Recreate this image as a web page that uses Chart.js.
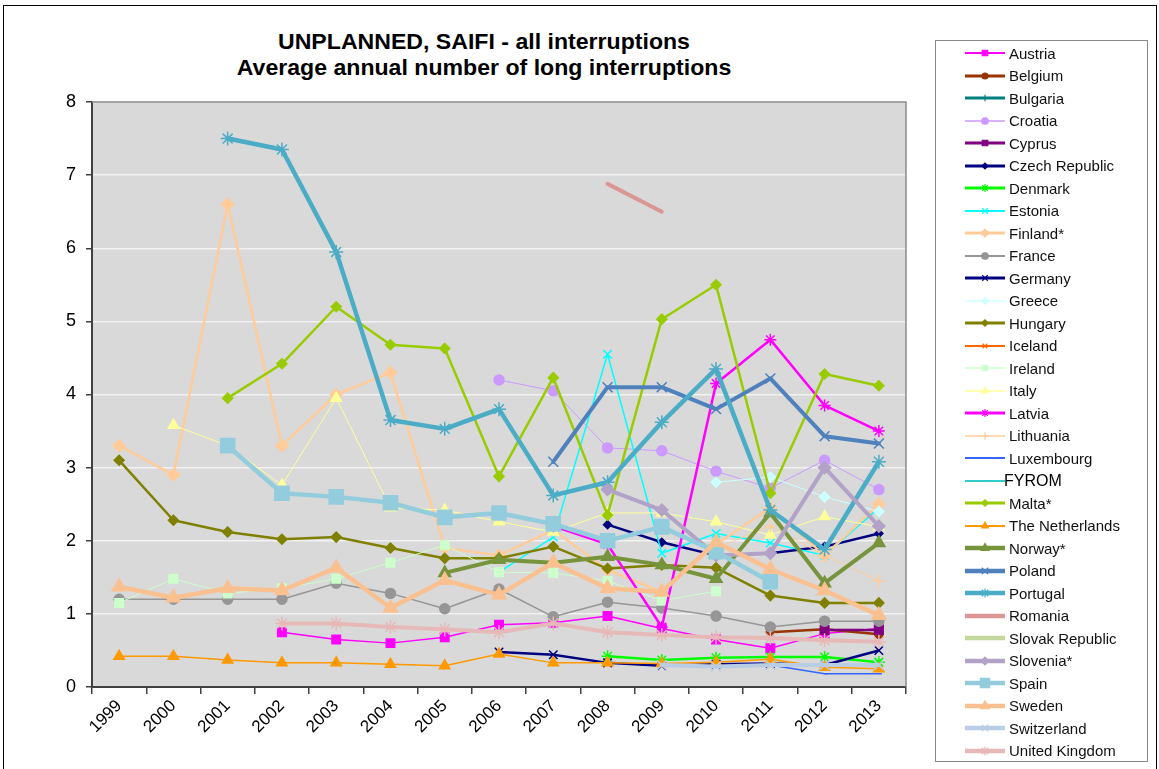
<!DOCTYPE html>
<html>
<head>
<meta charset="utf-8">
<script src="https://cdn.jsdelivr.net/npm/chart.js@4.4.1/dist/chart.umd.min.js"></script>
<style>
    body { margin: 0; background: #fff; font-family: "Liberation Sans", Arial, sans-serif; }
    #frame { position: absolute; left: 3px; top: 5px; width: 1154px; height: 770px; border: 1px solid #000; box-sizing: border-box; }
    #title { position: absolute; left: 0; top: 29px; width: 968px; text-align: center; font-weight: bold; font-size: 22px; line-height: 26px; color: #000; transform: scaleX(1.05); transform-origin: 484px 0; }
    #chart { position: absolute; left: 0; top: 0; }
    #legend { position: absolute; left: 935px; top: 40px; width: 213px; height: 722px; border: 1px solid #888; background: #fff; box-sizing: border-box; }
    .row { position: absolute; left: 0; height: 20px; display: flex; align-items: center; font-size: 15px; color: #111; white-space: nowrap; }
    .row canvas { margin-left: 29px; margin-right: 4px; }
</style>
</head>
<body>
<div id="frame"></div>
<div id="title">UNPLANNED, SAIFI - all interruptions<br>Average annual number of long interruptions</div>
<canvas id="chart" width="930" height="769"></canvas>
<div id="legend"></div>
<script>
const years = ['1999','2000','2001','2002','2003','2004','2005','2006','2007','2008','2009','2010','2011','2012','2013'];

const N = null;
const austria     = [N, N, N, 0.75, 0.65, 0.60, 0.68, 0.85, 0.88, 0.97, 0.80, 0.65, 0.53, 0.73, 0.80];
const belgium     = [N, N, N, N, N, N, N, N, N, N, N, N, 0.75, 0.79, 0.72];
const bulgaria    = [N, N, N, N, N, N, N, N, N, N, N, N, N, N, N];
const croatia     = [N, N, N, N, N, N, N, 4.20, 4.05, 3.27, 3.23, 2.95, 2.72, 3.10, 2.70];
const cyprus      = [N, N, N, N, N, N, N, N, N, N, N, N, N, 0.78, 0.78];
const czech       = [N, N, N, N, N, N, N, N, N, 2.22, 1.98, 1.80, 1.83, 1.92, 2.10];
const denmark     = [N, N, N, N, N, N, N, N, N, 0.42, 0.37, 0.40, 0.41, 0.41, 0.34];
const estonia     = [N, N, N, N, N, N, N, 1.57, 2.05, 4.55, 1.83, 2.10, 1.97, 1.80, 2.45];
const finland     = [3.30, 2.90, 6.60, 3.30, 4.00, 4.30, 1.90, 1.80, 2.15, 1.60, 1.30, 1.95, 2.45, 1.80, 2.50];
const france      = [1.20, 1.20, 1.20, 1.20, 1.42, 1.28, 1.07, 1.34, 0.96, 1.16, 1.08, 0.97, 0.82, 0.90, 0.90];
const germany     = [N, N, N, N, N, N, N, 0.48, 0.44, 0.33, 0.29, 0.31, 0.32, 0.30, 0.50];
const greece      = [N, N, N, N, N, N, N, N, N, N, N, 2.80, 2.87, 2.60, 2.40];
const hungary     = [3.10, 2.28, 2.12, 2.02, 2.05, 1.90, 1.76, 1.76, 1.92, 1.62, 1.67, 1.63, 1.25, 1.15, 1.15];
const iceland     = [N, N, N, N, N, N, N, N, N, N, N, N, N, N, N];
const ireland     = [1.15, 1.48, 1.28, 1.35, 1.48, 1.70, 1.94, 1.57, 1.56, 1.45, 1.18, 1.31, N, N, N];
const italy       = [N, 3.58, 3.30, 2.76, 3.95, 2.45, 2.42, 2.26, 2.12, 2.38, 2.38, 2.26, 2.08, 2.33, 2.19];
const latvia      = [N, N, N, N, N, N, N, N, 2.20, 1.95, 0.82, 4.15, 4.75, 3.85, 3.50];
const lithuania   = [N, N, N, N, N, N, N, N, N, N, N, 1.90, 2.20, 1.80, 1.45];
const luxembourg  = [N, N, N, N, N, N, N, N, N, N, N, N, 0.30, 0.18, 0.18];
const fyrom       = [N, N, N, N, N, N, N, N, N, N, N, N, N, N, N];
const malta       = [N, N, 3.95, 4.42, 5.20, 4.68, 4.63, 2.88, 4.23, 2.35, 5.03, 5.50, 2.65, 4.28, 4.12];
const netherlands = [0.42, 0.42, 0.37, 0.33, 0.33, 0.31, 0.29, 0.45, 0.33, 0.33, 0.32, 0.34, 0.38, 0.27, 0.25];
const norway      = [N, N, N, N, N, N, 1.56, 1.74, 1.70, 1.78, 1.67, 1.48, 2.38, 1.42, 1.97];
const poland      = [N, N, N, N, N, N, N, N, 3.08, 4.10, 4.10, 3.80, 4.22, 3.43, 3.33];
const portugal    = [N, N, 7.50, 7.35, 5.95, 3.65, 3.53, 3.80, 2.62, 2.80, 3.62, 4.35, 2.42, 1.88, 3.08];
const romania     = [N, N, N, N, N, N, N, N, N, 6.88, 6.50, N, N, N, N];
const slovakia    = [N, N, N, N, N, N, N, N, N, N, N, N, N, N, N];
const slovenia    = [N, N, N, N, N, N, N, N, N, 2.70, 2.42, 1.80, 1.83, 3.00, 2.20];
const spain       = [N, N, 3.30, 2.65, 2.60, 2.52, 2.32, 2.38, 2.23, 2.00, 2.19, 1.85, 1.44, N, N];
const sweden      = [1.37, 1.22, 1.35, 1.32, 1.63, 1.08, 1.46, 1.26, 1.70, 1.35, 1.30, 1.98, 1.61, 1.32, 0.98];
const switzerland = [N, N, N, N, N, N, N, N, N, N, 0.30, 0.28, 0.30, 0.30, 0.30];
const uk          = [N, N, N, 0.87, 0.87, 0.82, 0.79, 0.75, 0.87, 0.75, 0.71, 0.68, 0.67, 0.64, 0.62];

// name, data, colour, line width, marker, marker radius
const series = [
    ['Austria', austria, '#FF00FF', 1.5, 'rect', 6],
    ['Belgium', belgium, '#993300', 2.5, 'circle', 4],
    ['Bulgaria', bulgaria, '#008080', 2.5, 'cross', 5],
    ['Croatia', croatia, '#CC99FF', 1, 'circle', 5],
    ['Cyprus', cyprus, '#800080', 2.5, 'rect', 6],
    ['Czech Republic', czech, '#000080', 2.5, 'rectRot', 4],
    ['Denmark', denmark, '#00FF00', 2.5, 'star', 6],
    ['Estonia', estonia, '#00FFFF', 1.5, 'crossRot', 6],
    ['Finland*', finland, '#FFCC99', 2.5, 'rectRot', 6],
    ['France', france, '#969696', 1.5, 'circle', 5],
    ['Germany', germany, '#000080', 2.5, 'crossRot', 6],
    ['Greece', greece, '#CCFFFF', 1, 'rectRot', 5],
    ['Hungary', hungary, '#808000', 2.5, 'rectRot', 5],
    ['Iceland', iceland, '#FF6600', 1.5, 'crossRot', 5],
    ['Ireland', ireland, '#CCFFCC', 1, 'rect', 6],
    ['Italy', italy, '#FFFF99', 1, 'triangle', 6],
    ['Latvia', latvia, '#FF00FF', 2.5, 'star', 6],
    ['Lithuania', lithuania, '#FFCC99', 1, 'cross', 6],
    ['Luxembourg', luxembourg, '#3366FF', 1.5, 'dash', 3],
    ['FYROM', fyrom, '#33CCCC', 1.5, 'dash', 3],
    ['Malta*', malta, '#99CC00', 2.5, 'rectRot', 5],
    ['The Netherlands', netherlands, '#FF9900', 1.5, 'triangle', 6],
    ['Norway*', norway, '#77933C', 4, 'triangle', 7],
    ['Poland', poland, '#4F81BD', 4, 'crossRot', 7],
    ['Portugal', portugal, '#4BACC6', 4.5, 'star', 7],
    ['Romania', romania, '#D99694', 4, false, 0],
    ['Slovak Republic', slovakia, '#C3D69B', 4, false, 0],
    ['Slovenia*', slovenia, '#B3A2C7', 4, 'rectRot', 6],
    ['Spain', spain, '#93CDDD', 4.5, 'rect', 10],
    ['Sweden', sweden, '#FAC090', 4.5, 'triangle', 8],
    ['Switzerland', switzerland, '#B9CDE5', 4, 'crossRot', 7],
    ['United Kingdom', uk, '#E6B9B8', 4, 'star', 7],
];

const datasets = series.map(([name, data, color, w, style, r], i) => ({
    label: name,
    data: data,
    borderColor: color,
    backgroundColor: color,
    borderWidth: w,
    borderJoinStyle: 'round',
    borderCapStyle: 'round',
    pointStyle: style,
    pointRadius: style ? r : 0,
    pointBorderWidth: 1.5,
    pointBackgroundColor: color,
    pointBorderColor: color,
    spanGaps: false,
    tension: 0,
    order: series.length - i,
}));

const plotBg = {
    id: 'plotBg',
    beforeDraw(chart) {
        const { ctx, chartArea: a } = chart;
        ctx.save();
        ctx.fillStyle = '#d9d9d9';
        ctx.fillRect(a.left, a.top, a.right - a.left, a.bottom - a.top);
        ctx.restore();
    },
    afterDraw(chart) {
        const { ctx, chartArea: a } = chart;
        ctx.save();
        ctx.strokeStyle = '#8c8c8c';
        ctx.lineWidth = 1.5;
        ctx.beginPath();
        ctx.moveTo(a.left, a.top);
        ctx.lineTo(a.right, a.top);
        ctx.lineTo(a.right, a.bottom);
        ctx.stroke();
        ctx.restore();
    },
};

Chart.defaults.font.family = '"Liberation Sans", Arial, sans-serif';

new Chart(document.getElementById('chart'), {
    type: 'line',
    data: { labels: years, datasets },
    plugins: [plotBg],
    options: {
        responsive: false,
        animation: false,
        devicePixelRatio: 1,
        layout: { padding: { top: 102, right: 24, bottom: 0, left: 0 } },
        plugins: { legend: { display: false }, title: { display: false }, tooltip: { enabled: false } },
        scales: {
            x: {
                offset: true,
                grid: { offset: true, drawOnChartArea: false, tickLength: 7, tickColor: '#404040', lineWidth: 1.5 },
                border: { color: '#404040', width: 2 },
                ticks: { minRotation: 45, maxRotation: 45, color: '#000', font: { size: 17 }, padding: 2 },
                afterFit(s) { s.height = 82; },
            },
            y: {
                min: 0,
                max: 8,
                ticks: { stepSize: 1, color: '#000', font: { size: 18 }, padding: 10 },
                grid: { color: '#f2f2f2', lineWidth: 1.5, tickLength: 6, tickColor: '#404040' },
                border: { color: '#404040', width: 2 },
                afterFit(s) { s.width = 92; },
            },
        },
    },
});

// legend: line sample with marker, then the name
const legendEl = document.getElementById('legend');
series.forEach(([name, data, color, w, style, r], i) => {
    const row = document.createElement('div');
    row.className = 'row';
    row.style.top = (52 + 22.5 * i - 40 - 10) + 'px';
    const c = document.createElement('canvas');
    c.width = 40;
    c.height = 16;
    const ctx = c.getContext('2d');
    ctx.strokeStyle = color;
    ctx.fillStyle = color;
    ctx.lineWidth = Math.min(w + 0.5, 4.5);
    ctx.beginPath();
    ctx.moveTo(0, 8);
    ctx.lineTo(40, 8);
    ctx.stroke();
    if (style) {
        ctx.lineWidth = 1.2;
        const opts = { pointStyle: style, radius: Math.max(3, r * 0.65), rotation: 0, borderWidth: 1.2 };
        if (Chart.helpers && Chart.helpers.drawPoint) {
            Chart.helpers.drawPoint(ctx, opts, 20, 8);
        }
    }
    row.appendChild(c);
    const span = document.createElement('span');
    span.textContent = name;
    if (name === 'FYROM') { span.style.marginLeft = '-5px'; span.style.fontSize = '16px'; span.style.color = '#000'; }
    row.appendChild(span);
    legendEl.appendChild(row);
});
</script>
</body>
</html>
